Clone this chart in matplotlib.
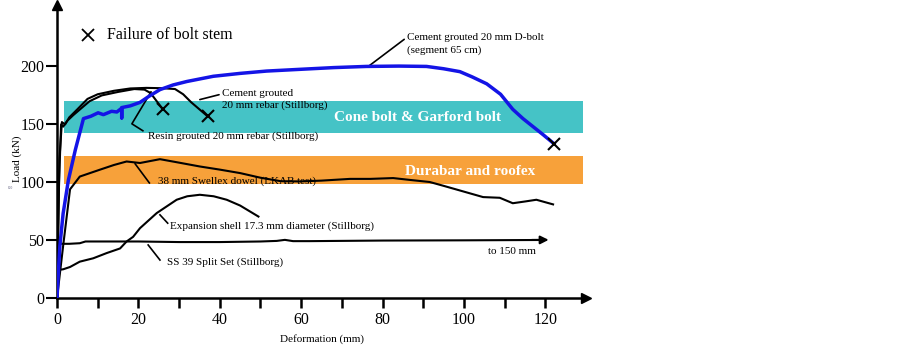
import numpy as np
import matplotlib.pyplot as plt

plt.rcParams['font.family'] = ['Liberation Serif', 'DejaVu Serif']

# ---- data (deformation mm, load kN) ----
dbolt_x = [0, 0.3, 0.7, 1.5, 2.8, 4.5, 6.5, 8.3, 10.1, 11.4, 13.4, 14.7, 15.9, 15.9, 15.9, 18.0, 20.4, 22.5,
           25.3, 28.5, 31.9, 38.4, 45, 51.5, 59.7, 68, 76, 84, 90.8, 95, 99, 102, 105.6, 109, 112, 114.5,
           117, 119.5, 122.1]
dbolt_y = [0, 20, 45, 73, 102, 128, 155, 157, 160, 158.4, 161.3, 160.7, 164, 155.6, 164.5, 166, 169, 174,
           180, 184, 187, 191.5, 194, 196, 197.5, 199, 200, 200.3, 200, 198, 195.5, 191, 185, 176, 163, 155,
           148, 141, 133.4]

resin_x = [0, 0.5, 1.0, 1.5, 2.5, 4, 6, 8, 11, 15, 19, 21.5, 23, 24.5, 26]
resin_y = [0, 100, 150, 148, 153, 158, 164, 170, 175, 178, 180.5, 180, 177, 170, 163]

cement_x = [0, 0.6, 1.2, 2, 3, 5, 7.5, 10, 14, 18, 22, 26, 29, 31, 33, 35, 37]
cement_y = [0, 120, 152, 150, 156, 163, 172, 176, 179, 181, 181.5, 181.2, 180.5, 176, 169, 163, 157]

swellex_x = [0, 1.5, 3.2, 5.6, 8.1, 10.6, 14, 17.1, 20.4, 25.3, 30, 35.1, 40, 45, 50, 55, 59.7, 65, 72,
             77, 82.6, 87, 91.6, 95, 99, 104.7, 108.8, 112, 115, 117.8, 121.9]
swellex_y = [0, 45, 94, 105, 108, 111, 115, 118, 116.7, 120, 117, 113.7, 111, 108, 104, 101, 100.8, 101.5,
             103, 103, 103.7, 102, 100.3, 97, 93, 87.3, 86.7, 82, 83.5, 85, 81]

exp_x = [0, 0.3, 1.5, 3.2, 5.6, 8.9, 12.2, 15.5, 17.1, 18.7, 20.4, 24.5, 29.4, 32, 35.1, 38.5, 41.7, 45, 49.5]
exp_y = [0, 24.5, 25, 27, 31.6, 34.5, 39, 43, 49, 53, 60.5, 73.5, 85, 88, 89.3, 88, 85, 80, 70.5]

split_x = [0, 0.5, 3, 5.6, 7, 10, 20, 30, 40, 50, 54, 56, 58, 62, 80, 100, 119]
split_y = [0, 47, 47, 47.5, 49, 49, 49, 48.5, 48.5, 49, 49.5, 50.4, 49.3, 49.3, 49.8, 50, 50.3]
split_end = (121.5, 50.4)

fail_x = [26, 37, 122.1]
fail_y = [163, 157, 133.4]

cone_band = (142.5, 170)
dura_band = (99, 122.5)
band_x = (1.7, 129.2)

xticks = [0, 20, 40, 60, 80, 100, 120]
xminor = [10, 30, 50, 70, 90, 110]
yticks = [0, 50, 100, 150, 200]

fig = plt.figure(figsize=(9.02, 3.49), dpi=100)
ax = fig.add_axes([0.0632, 0.1453, 0.5865, 0.8404])
ax.set_xlim(0, 130)
ax.set_ylim(0, 253)

# bands
ax.fill_between(band_x, cone_band[0], cone_band[1], color='#45c3c6', lw=0, zorder=1)
ax.fill_between(band_x, dura_band[0], dura_band[1], color='#f7a13a', lw=0, zorder=1)
ax.text(88.7, 156, 'Cone bolt & Garford bolt', color='white', fontsize=11, fontweight='bold',
        ha='center', va='center', zorder=2)
ax.text(101.6, 109.5, 'Durabar and roofex', color='white', fontsize=11, fontweight='bold',
        ha='center', va='center', zorder=2)

# curves
k = dict(color='black', lw=1.5, zorder=3)
ax.plot(resin_x, resin_y, **k)
ax.plot(cement_x, cement_y, **k)
ax.plot(swellex_x, swellex_y, **k)
ax.plot(exp_x, exp_y, **k)
ax.plot(split_x, split_y, **k)
ax.annotate('', xy=split_end, xytext=(split_x[-1] - 3, split_y[-1]),
            arrowprops=dict(arrowstyle='-|>', color='black', lw=1.5, mutation_scale=12), zorder=3)
ax.plot(dbolt_x, dbolt_y, color='#1414e6', lw=2.5, zorder=4)
ax.plot(fail_x, fail_y, 'x', color='black', ms=9, mew=1.5, zorder=5)

# legend-like note
ax.plot([7.6], [227], 'x', color='black', ms=9, mew=1.3, clip_on=False)
ax.text(12.3, 227, 'Failure of bolt stem', fontsize=11.5, va='center')

# labels with leader lines
lp = dict(arrowstyle='-', color='black', lw=1.2, shrinkA=0, shrinkB=0)
ax.annotate('Cement grouted 20 mm D-bolt\n(segment 65 cm)', xy=(76.5, 200), xytext=(86, 219.5),
            fontsize=8, va='center', ha='left', linespacing=1.45,
            arrowprops=dict(lp, relpos=(0, 0.8)))
ax.annotate('Cement grouted\n20 mm rebar (Stillborg)', xy=(35.1, 171.4), xytext=(40.5, 171.5),
            fontsize=8, va='center', ha='left', linespacing=1.45,
            arrowprops=dict(lp, relpos=(0, 0.75)))
ax.plot([21.1, 18.4, 23.1], [144.5, 150.5, 178], color='black', lw=1.2, zorder=3)
ax.text(22.4, 140, 'Resin grouted 20 mm rebar (Stillborg)', fontsize=8, va='center', ha='left')
ax.plot([22.7, 19.2], [99.5, 116], color='black', lw=1.2, zorder=3)
ax.text(24.8, 100.8, '38 mm Swellex dowel (LKAB test)', fontsize=8, va='center', ha='left')
ax.plot([27.2, 25.3], [64.8, 72], color='black', lw=1.2, zorder=3)
ax.text(27.8, 62.5, 'Expansion shell 17.3 mm diameter (Stillborg)', fontsize=8, va='center', ha='left')
ax.plot([25.3, 22.4], [33, 46], color='black', lw=1.2, zorder=3)
ax.text(27, 30.8, 'SS 39 Split Set (Stillborg)', fontsize=8, va='center', ha='left')
ax.text(106, 40.3, 'to 150 mm', fontsize=8, va='center', ha='left')

# axes styling
for s in ['top', 'right']:
    ax.spines[s].set_visible(False)
ax.spines['left'].set_linewidth(1.8)
ax.spines['bottom'].set_linewidth(1.8)
ax.plot([0], [1], '^', color='black', ms=7, transform=ax.transAxes, clip_on=False)
ax.plot([1], [0], '>', color='black', ms=7, transform=ax.transAxes, clip_on=False)

ax.set_xticks(xticks)
ax.set_xticks(xminor, minor=True)
ax.set_yticks(yticks)
ax.tick_params(axis='x', which='both', direction='out', length=7, width=1.8, labelsize=11.5, pad=3)
ax.tick_params(axis='y', direction='out', length=8, width=1.5, labelsize=11.5, pad=1)

ax.set_xlabel('Deformation (mm)', fontsize=8, labelpad=4)
fig.text(0.019, 0.545, 'Load (kN)', rotation=90, fontsize=8, ha='center', va='center')
fig.text(0.011, 0.46, '100', fontsize=2.5, ha='center', va='center', color='#555577')

fig.savefig('out.png', dpi=100)
